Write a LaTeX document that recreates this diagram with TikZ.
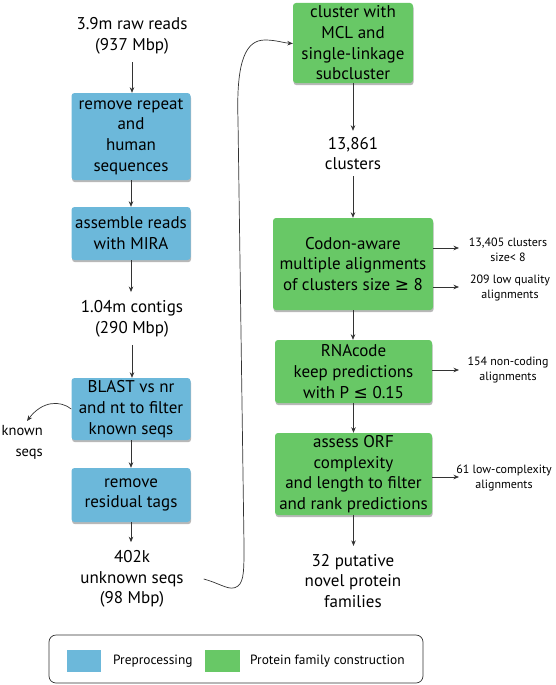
\documentclass[tikz,border=0pt]{standalone}
\usepackage{fontspec}
\setmainfont{PT Sans}
\newfontfamily\symfont{DejaVu Sans}
\usetikzlibrary{arrows.meta,shadows}
\definecolor{pblue}{HTML}{6CB8DA}
\definecolor{pgreen}{HTML}{68C866}
\definecolor{lncol}{HTML}{333333}
\begin{document}
\begin{tikzpicture}[x=1pt,y=-1pt,
  box/.style={rounded corners=3pt, align=center, inner sep=0pt,
    font=\fontsize{17}{20.7}\selectfont,
    drop shadow={shadow xshift=0.6pt, shadow yshift=-2.2pt, fill=black, opacity=0.28}},
  bbox/.style={box, fill=pblue},
  gbox/.style={box, fill=pgreen},
  txt/.style={align=center, inner xsep=2pt, inner ysep=8pt, font=\fontsize{17}{20.7}\selectfont},
  small/.style={align=center, inner sep=1pt, font=\fontsize{12}{15}\selectfont},
  arr/.style={-{Stealth[length=5.5pt,width=4.5pt]}, line width=0.7pt, draw=lncol},
  legsq/.style={minimum width=34pt, minimum height=22pt, inner sep=0pt},
  legtxt/.style={anchor=west, inner sep=0pt, font=\fontsize{13.4}{15}\selectfont}
]
\useasboundingbox (0,0) rectangle (555,685);

% left column
\node[txt] (t1) at (132,36) {3.9m raw reads\\(937 Mbp)};
\node[bbox, minimum width=119pt, minimum height=87pt] (b1) at (131,136.5)
  {remove repeat\\and\hspace*{16pt}\\human\\sequences};
\node[bbox, minimum width=119pt, minimum height=53pt] (b2) at (131,233.5)
  {assemble reads\\with MIRA};
\node[txt] (t2) at (132,318.5) {1.04m contigs\\(290 Mbp)};
\node[bbox, minimum width=119pt, minimum height=62pt] (b3) at (131,409)
  {BLAST vs nr\\and nt to filter\\known seqs};
\node[bbox, minimum width=119pt, minimum height=54pt] (b4) at (131,495)
  {remove\\residual tags};
\node[txt] (t3) at (132,579) {402k\\unknown seqs\\(98 Mbp)};
\node[align=right, anchor=east, inner sep=0pt, font=\fontsize{14.5}{21}\selectfont] (ks) at (43,442) {known\\seqs};
\coordinate (k1) at (27,421);

% right column
\node[gbox, minimum width=120pt, minimum height=80pt] (b5) at (353,43)
  {cluster with\\MCL and\\single-linkage\\subcluster};
\node[txt, inner ysep=6pt] (t4) at (353,153.5) {13,861\\clusters};
\node[gbox, minimum width=160pt, minimum height=92pt] (b6) at (353,264)
  {Codon-aware\\multiple alignments\\of clusters size {\symfont ≥} 8};
\node[gbox, minimum width=157pt, minimum height=63pt] (b7) at (353.5,371.5)
  {RNAcode\\keep predictions\\with P {\symfont ≤} 0.15};
\node[gbox, minimum width=157pt, minimum height=82pt] (b8) at (353.5,474)
  {assess ORF\\complexity\\and length to filter\\and rank predictions};
\node[txt] (t5) at (353,581) {32 putative\\novel protein\\families};

% side labels
\node[small] (l1) at (508,250) {13,405 clusters\\size< 8};
\node[small] (l2) at (510,288) {209 low quality\\alignments};
\node[small] (l3) at (508,370) {154 non-coding\\alignments};
\node[small] (l4) at (504,477.5) {61 low-complexity\\alignments};
\coordinate (e1) at (459,248);
\coordinate (e2) at (459,287);
\coordinate (e3) at (459,370);
\coordinate (e4) at (459,477);

% vertical arrows
\draw[arr] (t1.south) -- (t1.south |- b1.north);
\draw[arr] (b1.south) -- (b1.south |- b2.north);
\draw[arr] (b2.south) -- (b2.south |- t2.north);
\draw[arr] (t2.south) -- (t2.south |- b3.north);
\draw[arr] (b3.south) -- (b3.south |- b4.north);
\draw[arr] (b4.south) -- (b4.south |- t3.north);
\draw[arr] (b5.south) -- (b5.south |- t4.north);
\draw[arr] (t4.south) -- (t4.south |- b6.north);
\draw[arr] (b6.south) -- (b6.south |- b7.north);
\draw[arr] (b7.south) -- (b7.south |- b8.north);
\draw[arr] (b8.south) -- (b8.south |- t5.north);

% side arrows
\draw[arr] (b6.east |- e1) -- (e1);
\draw[arr] (b6.east |- e2) -- (e2);
\draw[arr] (b7.east |- e3) -- (e3);
\draw[arr] (b8.east |- e4) -- (e4);

% known seqs
\draw[arr] (b3.west) .. controls (60,400) and (42,401) .. (k1);

% long connector
\draw[arr] ([xshift=18pt]t3.east) .. controls (222,584) and (230,592) .. (238,586)
  .. controls (244,581) and (244,570) .. (244,545)
  -- (238,120)
  .. controls (236,60) and (246,40) .. (265,40)
  .. controls (276,40) and (284,43) .. (b5.west |- 0,43.5);

% legend
\draw[line width=0.7pt, draw=lncol, rounded corners=7pt] (49,635) rectangle (423,683);
\node[legsq, fill=pblue] (sq1) at (84,661) {};
\node[legtxt] (lt1) at (113,661) {Preprocessing};
\node[legsq, fill=pgreen, minimum width=35pt] (sq2) at (222.5,661) {};
\node[legtxt] (lt2) at (250,661) {Protein family construction};
\end{tikzpicture}
\end{document}
